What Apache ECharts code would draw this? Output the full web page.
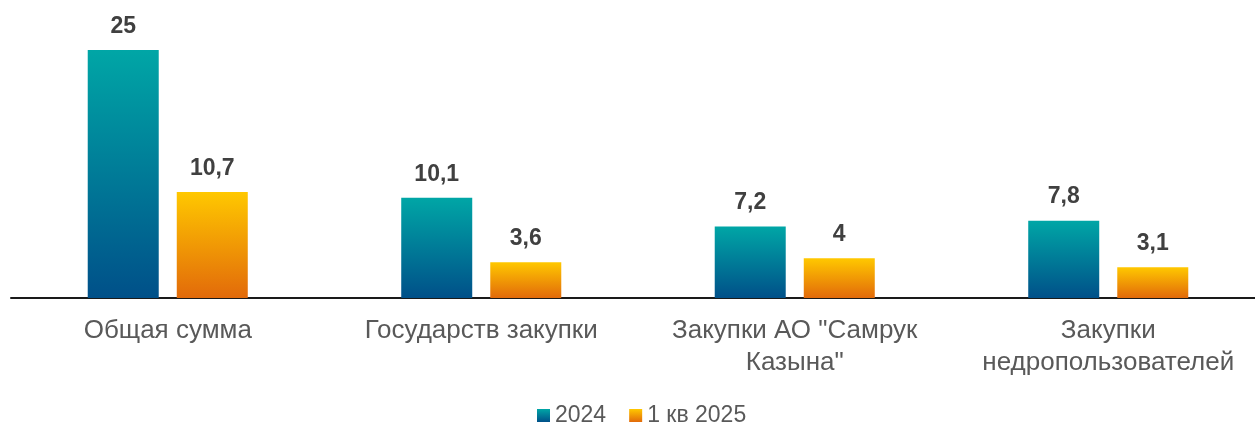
<!DOCTYPE html>
<html><head><meta charset="utf-8">
<script src="https://cdn.jsdelivr.net/npm/echarts@6/dist/echarts.min.js"></script>
<style>html,body{margin:0;padding:0;background:#fff;overflow:hidden;width:1255px;height:426px}#c{width:1266px;height:426px}</style>
</head><body><div id="c"></div>
<script>
const categories = ['Общая сумма', 'Государств закупки', 'Закупки АО "Самрук\nКазына"', 'Закупки\nнедропользователей'];
const seriesNames = ['2024', '1 кв 2025'];
const values2024 = [25, 10.1, 7.2, 7.8];
const values2025 = [10.7, 3.6, 4, 3.1];

const grad = (top, bottom) => new echarts.graphic.LinearGradient(0, 0, 0, 1, [
  {offset: 0, color: top}, {offset: 1, color: bottom}
]);
const labelFmt = p => String(p.value).replace('.', ',');
const labelStyle = {
  show: true, position: 'top', distance: 12, formatter: labelFmt,
  fontFamily: 'Liberation Sans', fontSize: 23, fontWeight: 'bold', color: '#404040'
};
const chart = echarts.init(document.getElementById('c'), null, {renderer: 'canvas'});
chart.setOption({
  animation: false,
  textStyle: {fontFamily: 'Liberation Sans'},
  grid: {left: 11, width: 1254, top: 0.5, height: 297.5, containLabel: false},
  legend: {
    data: seriesNames, top: 399, left: 532, icon: 'rect',
    itemWidth: 13, itemHeight: 13, itemGap: 23,
    textStyle: {fontFamily: 'Liberation Sans', fontSize: 23, color: '#595959'}
  },
  xAxis: {
    type: 'category', data: categories,
    axisLine: {lineStyle: {color: '#1a1a1a', width: 2}},
    axisTick: {show: false},
    axisLabel: {fontFamily: 'Liberation Sans', fontSize: 26, color: '#595959', margin: 17, lineHeight: 32, interval: 0}
  },
  yAxis: {type: 'value', min: 0, max: 30, show: false, splitLine: {show: false}},
  series: [
    {name: seriesNames[0], type: 'bar', data: values2024, barWidth: 71, barGap: '25.4%',
     itemStyle: {color: grad('#00a6a6', '#005089')}, label: labelStyle},
    {name: seriesNames[1], type: 'bar', data: values2025, barWidth: 71,
     itemStyle: {color: grad('#ffc800', '#e26a0a')}, label: labelStyle}
  ]
});
</script></body></html>
